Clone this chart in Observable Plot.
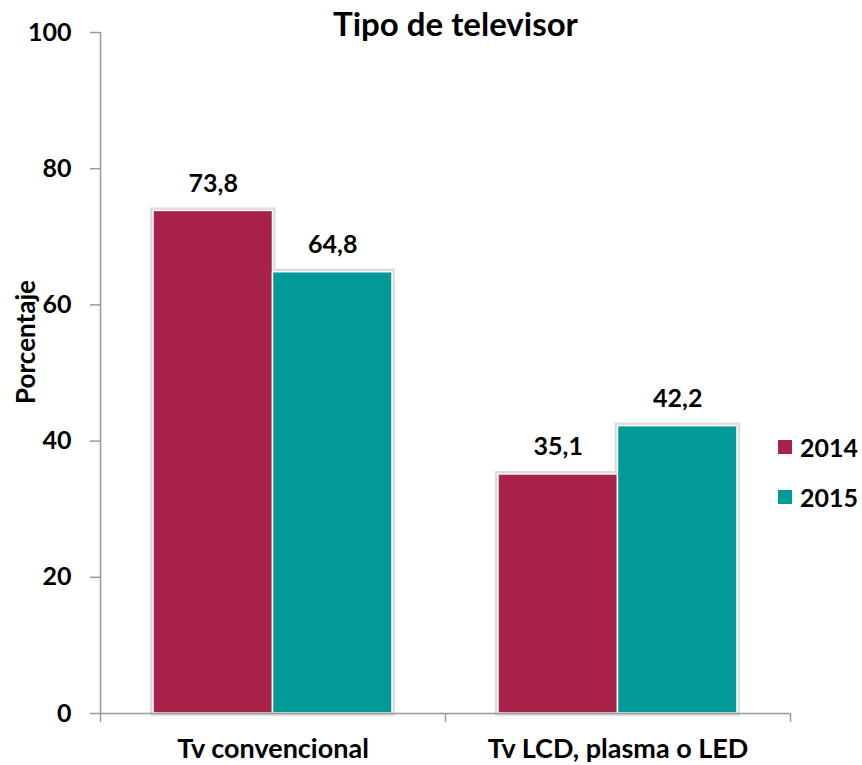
<!DOCTYPE html>
<html>
<head>
<meta charset="utf-8">
<script src="https://cdn.jsdelivr.net/npm/d3@7"></script>
<script src="https://cdn.jsdelivr.net/npm/@observablehq/plot@0.6"></script>
<style>
  html, body { margin: 0; padding: 0; background: #fff; }
  #wrap { position: relative; width: 862px; height: 765px; font-family: Lato, "Open Sans", sans-serif; }
  .legend { position: absolute; left: 778px; font-weight: bold; font-size: 25px; color: #000; display: flex; align-items: center; }
  .legend .sw { width: 14px; height: 14px; margin-right: 8px; }
</style>
</head>
<body>
<div id="wrap"></div>
<script>
const title = "Tipo de televisor";
const yLabel = "Porcentaje";
const categories = ["Tv convencional", "Tv LCD, plasma o LED"];
const years = ["2014", "2015"];
const values2014 = [73.8, 35.1];
const values2015 = [64.8, 42.2];
const colors = ["#A8224A", "#009B98"];
const yTicks = [0, 20, 40, 60, 80, 100];

const rows2014 = categories.map((c, i) => ({cat: c, year: years[0], value: values2014[i]}));
const rows2015 = categories.map((c, i) => ({cat: c, year: years[1], value: values2015[i]}));

const W = 862, H = 765, mL = 100, mR = 72, mT = 32, mB = 52;
const bw = (W - mL - mR) / categories.length; // band width
const pad = 53, barW = 119.5;
const fmt = d => d.toFixed(1).replace(".", ",");
const FONT = "Lato, 'Open Sans', sans-serif";

const bar = (rows, color, inL, inR, back) => Plot.barY(rows, {
  x: "cat", y: "value",
  insetLeft: inL, insetRight: inR,
  fill: back ? "none" : color,
  stroke: back ? "#dcdcdc" : "white",
  strokeWidth: back ? 6 : 1.5
});

const chart = Plot.plot({
  width: W, height: H,
  marginLeft: mL, marginRight: mR, marginTop: mT, marginBottom: mB,
  style: {fontFamily: FONT, fontWeight: "bold", fontSize: "25px", color: "#000", background: "white"},
  x: {domain: categories, padding: 0, axis: null},
  y: {domain: [0, 100], axis: null},
  marks: [
    // shadows
    bar(rows2014, colors[0], pad, bw - pad - barW, true),
    bar(rows2015, colors[1], pad + barW, pad, true),
    // bars
    bar(rows2014, colors[0], pad, bw - pad - barW, false),
    bar(rows2015, colors[1], pad + barW, pad, false),
    // x axis baseline
    Plot.ruleY([0], {stroke: "#999", strokeWidth: 1.5}),
    // y axis line
    Plot.ruleX([categories[0]], {x: d => d, y1: 0, y2: 100, dx: -bw / 2, stroke: "#999", strokeWidth: 1.5}),
    // x boundary ticks
    Plot.ruleX(categories, {x: d => d, y1: 0, y2: -9 / 6.81, dx: -bw / 2, stroke: "#999", strokeWidth: 1.5}),
    Plot.ruleX([categories[categories.length - 1]], {x: d => d, y1: 0, y2: -9 / 6.81, dx: bw / 2, stroke: "#999", strokeWidth: 1.5}),
    // y axis ticks & labels
    Plot.axisY({ticks: yTicks, tickSize: 10, tickPadding: 19, stroke: "#999", strokeWidth: 1.5, label: null, fontSize: 25, fontWeight: "bold"}),
    // x axis labels
    Plot.axisX({tickSize: 0, tickPadding: 25, label: null, fontSize: 27, fontWeight: "bold"}),
    // value labels
    Plot.text(rows2014, {x: "cat", y: "value", text: d => fmt(d.value), dx: -(bw / 2 - pad - barW / 2), dy: -27, fontSize: 25, fontWeight: "bold", fill: "#000"}),
    Plot.text(rows2015, {x: "cat", y: "value", text: d => fmt(d.value), dx: (bw / 2 - pad - barW / 2), dy: -27, fontSize: 25, fontWeight: "bold", fill: "#000"}),
    // title
    Plot.text([title], {frameAnchor: "top", text: d => d, dx: 10, dy: -7, textAnchor: "middle", lineAnchor: "middle", fontSize: 33, fontWeight: "bold", fill: "#000"}),
    // y label
    Plot.text([yLabel], {frameAnchor: "left", text: d => d, rotate: -90, textAnchor: "middle", lineAnchor: "middle", dx: -74, dy: -31, fontSize: 26, fontWeight: "bold", fill: "#000"})
  ]
});

const wrap = document.getElementById("wrap");
wrap.appendChild(chart);

const legendTop = [447, 497];
years.forEach((y, i) => {
  const item = document.createElement("div");
  item.className = "legend";
  item.style.top = (legendTop[i] - 16) + "px";
  item.style.height = "32px";
  const sw = document.createElement("span");
  sw.className = "sw";
  sw.style.background = colors[i];
  const t = document.createElement("span");
  t.textContent = y;
  item.appendChild(sw);
  item.appendChild(t);
  wrap.appendChild(item);
});
</script>
</body>
</html>
